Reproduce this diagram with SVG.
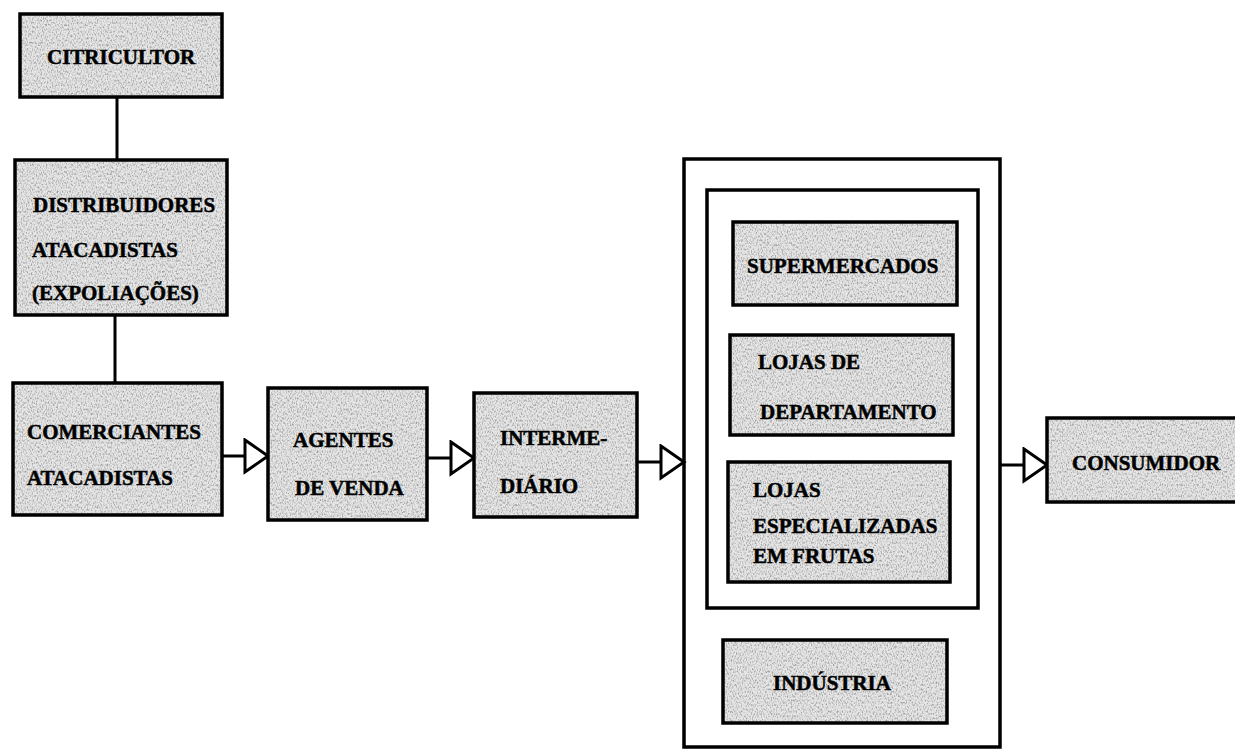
<svg xmlns="http://www.w3.org/2000/svg" width="1235" height="751" viewBox="0 0 1235 751">
  <defs>
    <style>
      .box { fill: url(#stipple); stroke: #000; stroke-width: 3.5; }
      .frame { fill: none; stroke: #000; stroke-width: 3.5; }
      .link { fill: none; stroke: #000; stroke-width: 3; }
      .flow { fill: none; stroke: #000; stroke-width: 3; marker-end: url(#hollow); }
      .lbl { font-family: "Liberation Serif", "Times New Roman", serif; font-weight: bold; font-size: 21px; fill: #000; stroke: #000; stroke-width: 0.5; }
    </style>
    <!-- stippled grey fill for the boxes -->
    <filter id="grain" x="0" y="0" width="100%" height="100%">
      <feTurbulence type="fractalNoise" baseFrequency="0.8 0.45" numOctaves="2" seed="7" result="noise"/>
      <feColorMatrix in="noise" type="matrix" values="0 0 0 0 0.35  0 0 0 0 0.35  0 0 0 0 0.35  -2.8 0 0 0 1.6" result="speck"/>
      <feComposite in="speck" in2="SourceAlpha" operator="in" result="clipped"/>
      <feMerge>
        <feMergeNode in="SourceGraphic"/>
        <feMergeNode in="clipped"/>
      </feMerge>
    </filter>
    <pattern id="stipple" patternUnits="userSpaceOnUse" width="260" height="260">
      <rect width="260" height="260" fill="#e6e6e6" filter="url(#grain)"/>
    </pattern>
    <!-- open triangular arrowhead -->
    <marker id="hollow" markerUnits="userSpaceOnUse" markerWidth="28" markerHeight="38" refX="25" refY="18" orient="auto">
      <path d="M2,2 L25,18 L2,34 Z" fill="#fff" stroke="#000" stroke-width="3" stroke-linejoin="miter"/>
    </marker>
  </defs>

  <rect width="1235" height="751" fill="#fff"/>

  <!-- connectors -->
  <g id="connectors">
    <line class="link" x1="117" y1="97" x2="117" y2="160"/>
    <line class="link" x1="115" y1="315" x2="115" y2="383"/>
    <line class="flow" x1="222" y1="456" x2="268" y2="456"/>
    <line class="flow" x1="427" y1="458" x2="474" y2="458"/>
    <line class="flow" x1="637" y1="462" x2="684" y2="462"/>
    <line class="flow" x1="1000" y1="465" x2="1047" y2="465"/>
  </g>

  <g id="citricultor">
    <rect class="box" x="20" y="14" width="202" height="83"/>
    <text class="lbl" x="47" y="64">CITRICULTOR</text>
  </g>

  <g id="distribuidores">
    <rect class="box" x="15" y="160" width="212" height="155"/>
    <text class="lbl" x="33" y="212">DISTRIBUIDORES</text>
    <text class="lbl" x="32" y="257">ATACADISTAS</text>
    <text class="lbl" x="32" y="300">(EXPOLIAÇÕES)</text>
  </g>

  <g id="comerciantes">
    <rect class="box" x="13" y="383" width="209" height="132"/>
    <text class="lbl" x="27" y="439">COMERCIANTES</text>
    <text class="lbl" x="27" y="485">ATACADISTAS</text>
  </g>

  <g id="agentes">
    <rect class="box" x="268" y="388" width="159" height="132"/>
    <text class="lbl" x="293" y="447">AGENTES</text>
    <text class="lbl" x="295" y="495">DE VENDA</text>
  </g>

  <g id="intermediario">
    <rect class="box" x="474" y="393" width="163" height="124"/>
    <text class="lbl" x="500" y="445">INTERME-</text>
    <text class="lbl" x="500" y="493">DIÁRIO</text>
  </g>

  <g id="varejo">
    <rect class="frame" x="684" y="159" width="316" height="588"/>
    <rect class="frame" x="707" y="190" width="271" height="418"/>
  </g>

  <g id="supermercados">
    <rect class="box" x="733" y="222" width="224" height="83"/>
    <text class="lbl" x="747" y="273">SUPERMERCADOS</text>
  </g>

  <g id="lojas-departamento">
    <rect class="box" x="730" y="335" width="223" height="100"/>
    <text class="lbl" x="758" y="369">LOJAS DE</text>
    <text class="lbl" x="760" y="419">DEPARTAMENTO</text>
  </g>

  <g id="lojas-frutas">
    <rect class="box" x="728" y="462" width="222" height="120"/>
    <text class="lbl" x="753" y="497">LOJAS</text>
    <text class="lbl" x="753" y="533">ESPECIALIZADAS</text>
    <text class="lbl" x="753" y="563">EM FRUTAS</text>
  </g>

  <g id="industria">
    <rect class="box" x="723" y="640" width="224" height="83"/>
    <text class="lbl" x="773" y="690">INDÚSTRIA</text>
  </g>

  <g id="consumidor">
    <rect class="box" x="1047" y="418" width="200" height="84"/>
    <text class="lbl" x="1072" y="470">CONSUMIDOR</text>
  </g>
</svg>
